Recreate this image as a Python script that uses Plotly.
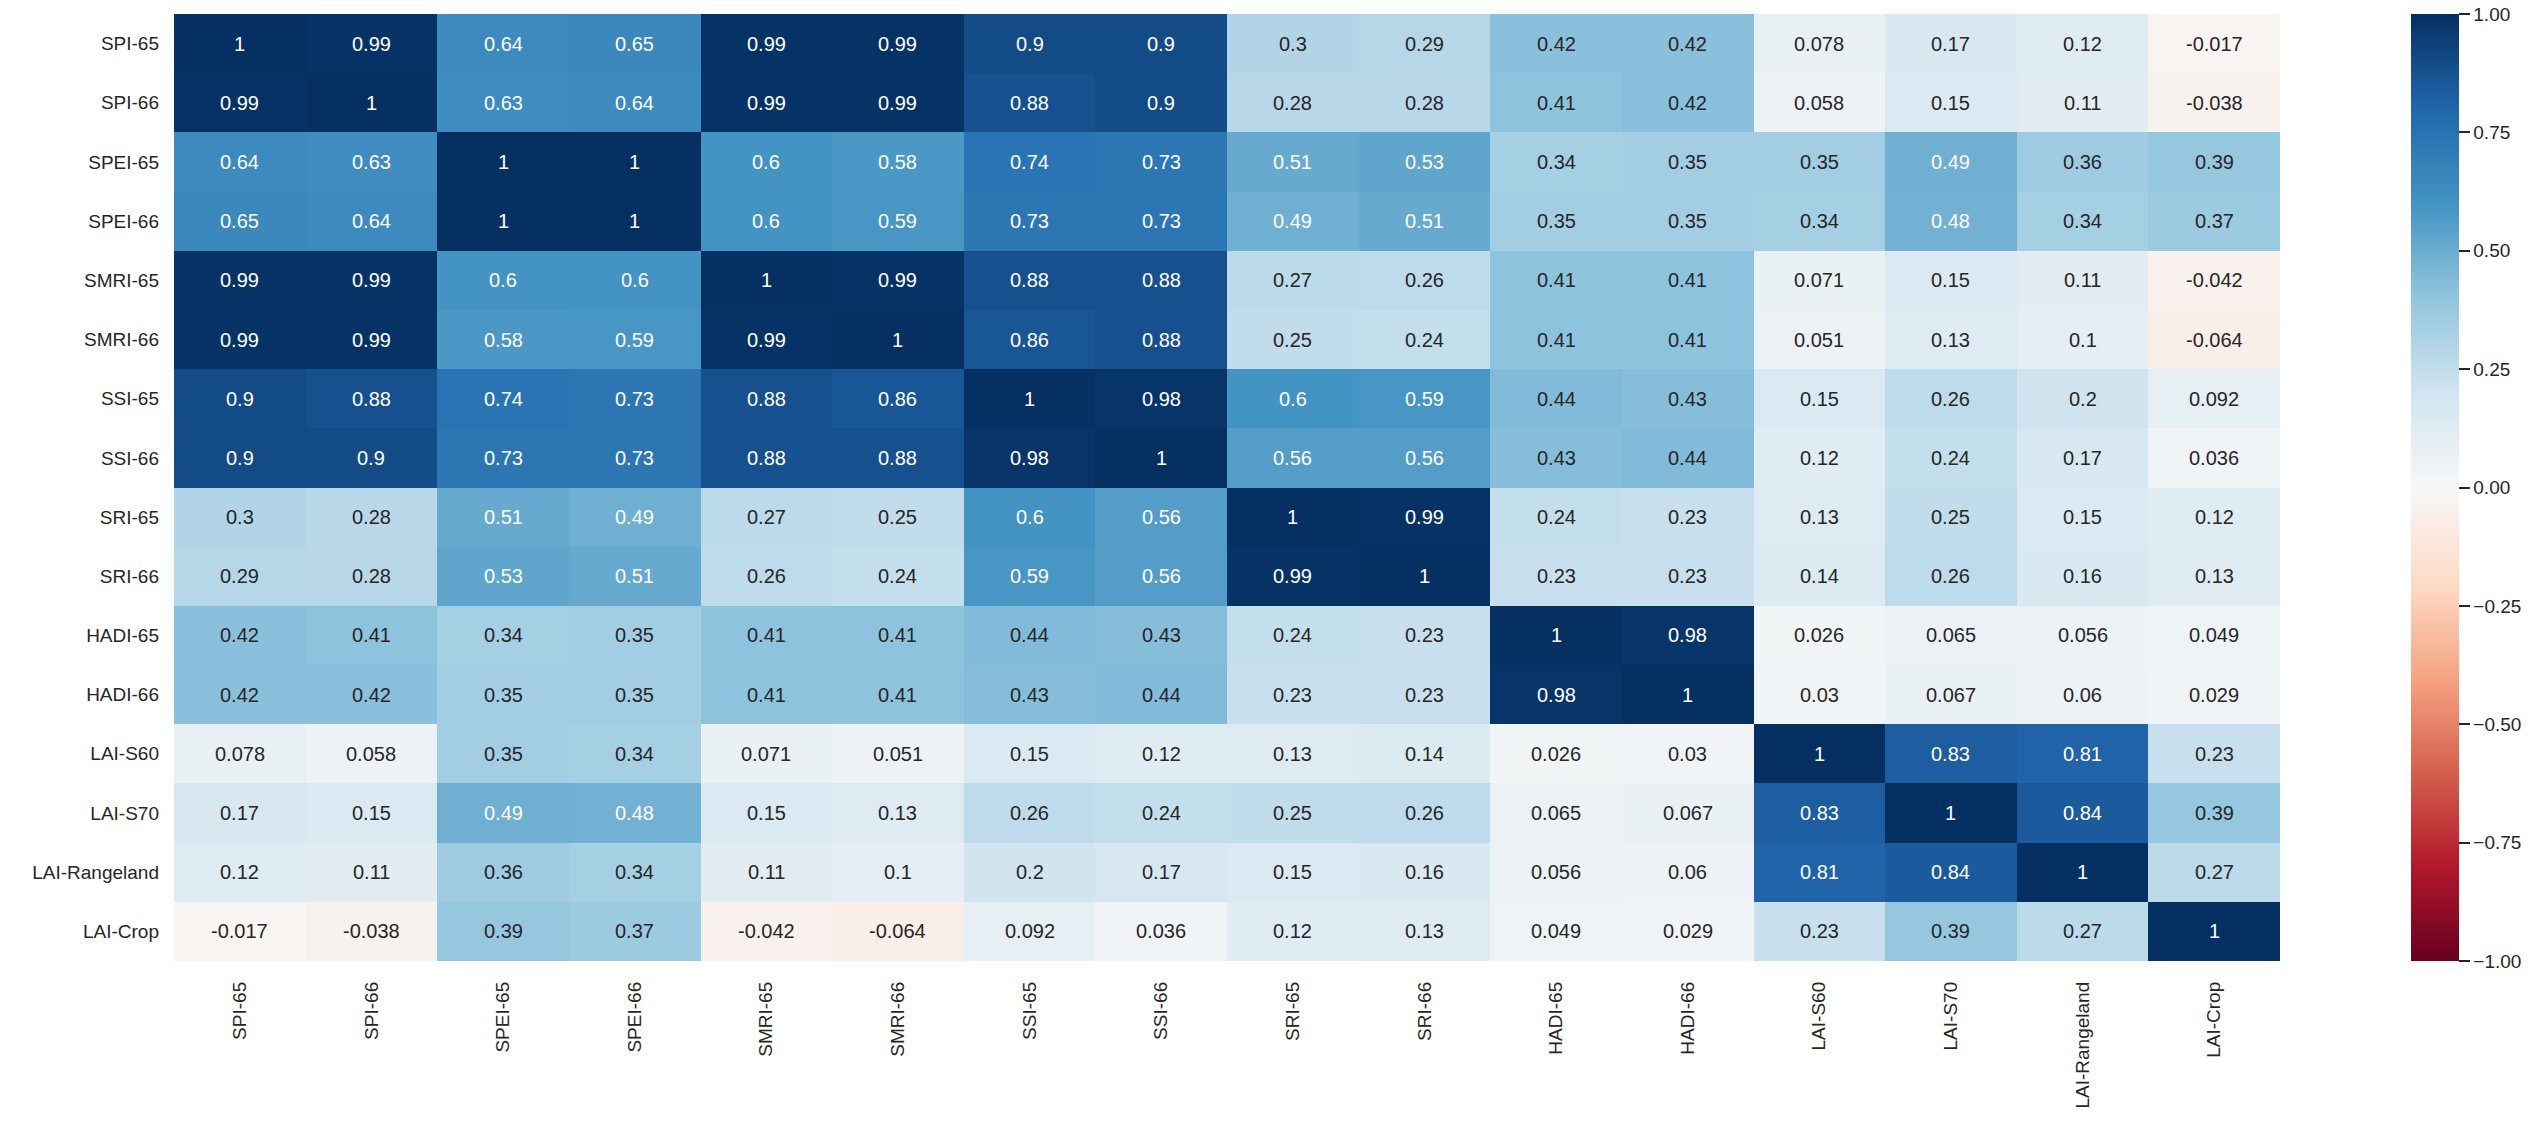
import plotly.graph_objects as go

labels = ["SPI-65", "SPI-66", "SPEI-65", "SPEI-66", "SMRI-65", "SMRI-66", "SSI-65", "SSI-66",
          "SRI-65", "SRI-66", "HADI-65", "HADI-66", "LAI-S60", "LAI-S70", "LAI-Rangeland", "LAI-Crop"]

r_spi65 = [1, 0.99, 0.64, 0.65, 0.99, 0.99, 0.9, 0.9, 0.3, 0.29, 0.42, 0.42, 0.078, 0.17, 0.12, -0.017]
r_spi66 = [0.99, 1, 0.63, 0.64, 0.99, 0.99, 0.88, 0.9, 0.28, 0.28, 0.41, 0.42, 0.058, 0.15, 0.11, -0.038]
r_spei65 = [0.64, 0.63, 1, 1, 0.6, 0.58, 0.74, 0.73, 0.51, 0.53, 0.34, 0.35, 0.35, 0.49, 0.36, 0.39]
r_spei66 = [0.65, 0.64, 1, 1, 0.6, 0.59, 0.73, 0.73, 0.49, 0.51, 0.35, 0.35, 0.34, 0.48, 0.34, 0.37]
r_smri65 = [0.99, 0.99, 0.6, 0.6, 1, 0.99, 0.88, 0.88, 0.27, 0.26, 0.41, 0.41, 0.071, 0.15, 0.11, -0.042]
r_smri66 = [0.99, 0.99, 0.58, 0.59, 0.99, 1, 0.86, 0.88, 0.25, 0.24, 0.41, 0.41, 0.051, 0.13, 0.1, -0.064]
r_ssi65 = [0.9, 0.88, 0.74, 0.73, 0.88, 0.86, 1, 0.98, 0.6, 0.59, 0.44, 0.43, 0.15, 0.26, 0.2, 0.092]
r_ssi66 = [0.9, 0.9, 0.73, 0.73, 0.88, 0.88, 0.98, 1, 0.56, 0.56, 0.43, 0.44, 0.12, 0.24, 0.17, 0.036]
r_sri65 = [0.3, 0.28, 0.51, 0.49, 0.27, 0.25, 0.6, 0.56, 1, 0.99, 0.24, 0.23, 0.13, 0.25, 0.15, 0.12]
r_sri66 = [0.29, 0.28, 0.53, 0.51, 0.26, 0.24, 0.59, 0.56, 0.99, 1, 0.23, 0.23, 0.14, 0.26, 0.16, 0.13]
r_hadi65 = [0.42, 0.41, 0.34, 0.35, 0.41, 0.41, 0.44, 0.43, 0.24, 0.23, 1, 0.98, 0.026, 0.065, 0.056, 0.049]
r_hadi66 = [0.42, 0.42, 0.35, 0.35, 0.41, 0.41, 0.43, 0.44, 0.23, 0.23, 0.98, 1, 0.03, 0.067, 0.06, 0.029]
r_lais60 = [0.078, 0.058, 0.35, 0.34, 0.071, 0.051, 0.15, 0.12, 0.13, 0.14, 0.026, 0.03, 1, 0.83, 0.81, 0.23]
r_lais70 = [0.17, 0.15, 0.49, 0.48, 0.15, 0.13, 0.26, 0.24, 0.25, 0.26, 0.065, 0.067, 0.83, 1, 0.84, 0.39]
r_lairange = [0.12, 0.11, 0.36, 0.34, 0.11, 0.1, 0.2, 0.17, 0.15, 0.16, 0.056, 0.06, 0.81, 0.84, 1, 0.27]
r_laicrop = [-0.017, -0.038, 0.39, 0.37, -0.042, -0.064, 0.092, 0.036, 0.12, 0.13, 0.049, 0.029, 0.23, 0.39, 0.27, 1]

matrix = [r_spi65, r_spi66, r_spei65, r_spei66, r_smri65, r_smri66, r_ssi65, r_ssi66,
          r_sri65, r_sri66, r_hadi65, r_hadi66, r_lais60, r_lais70, r_lairange, r_laicrop]

cbar_ticks = [-1.0, -0.75, -0.5, -0.25, 0.0, 0.25, 0.5, 0.75, 1.0]

# matplotlib RdBu
rdbu_hex = ['#67001f', '#b2182b', '#d6604d', '#f4a582', '#fddbc7', '#f7f7f7',
            '#d1e5f0', '#92c5de', '#4393c3', '#2166ac', '#053061']
rdbu_rgb = [tuple(int(h[i:i + 2], 16) for i in (1, 3, 5)) for h in rdbu_hex]
colorscale = [[i / 10, h] for i, h in enumerate(rdbu_hex)]


def cmap(v):
    t = (v + 1) / 2 * 10
    i = min(int(t), 9)
    f = t - i
    a, b = rdbu_rgb[i], rdbu_rgb[i + 1]
    return [a[k] + (b[k] - a[k]) * f for k in range(3)]


def lum(rgb):
    out = []
    for c in rgb:
        c = c / 255
        out.append(c / 12.92 if c <= 0.03928 else ((c + 0.055) / 1.055) ** 2.4)
    return 0.2126 * out[0] + 0.7152 * out[1] + 0.0722 * out[2]


font_family = "Liberation Sans, Arial, sans-serif"
tick_font = dict(family=font_family, size=19, color="#262626")

fig = go.Figure(go.Heatmap(
    z=matrix, x=labels, y=labels, colorscale=colorscale, zmin=-1, zmax=1,
    showscale=True,
    colorbar=dict(
        x=1.0621, xanchor="left", xref="paper", y=0.5, yanchor="middle", len=1, lenmode="fraction",
        thickness=48, xpad=0, ypad=0, outlinewidth=0,
        tickvals=cbar_ticks, tickformat=".2f", ticks="outside", ticklen=11, tickwidth=2,
        tickcolor="#262626", tickfont=tick_font,
    ),
    hoverongaps=False,
))

annotations = []
for i, row in enumerate(matrix):
    for j, v in enumerate(row):
        color = "#262626" if lum(cmap(v)) > 0.408 else "#ffffff"
        annotations.append(dict(x=labels[j], y=labels[i], text=format(v, ".2g"), showarrow=False,
                                font=dict(family=font_family, size=20, color=color)))

fig.update_layout(
    width=2537, height=1121,
    margin=dict(l=174, r=257, t=14, b=156),
    paper_bgcolor="white", plot_bgcolor="white",
    annotations=annotations,
    xaxis=dict(tickangle=-90, tickfont=tick_font,
               showgrid=False, zeroline=False, ticks="", ticklabelstandoff=16),
    yaxis=dict(autorange="reversed", tickfont=tick_font,
               showgrid=False, zeroline=False, ticks="", ticklabelstandoff=14),
)

fig.write_html("out.html")
